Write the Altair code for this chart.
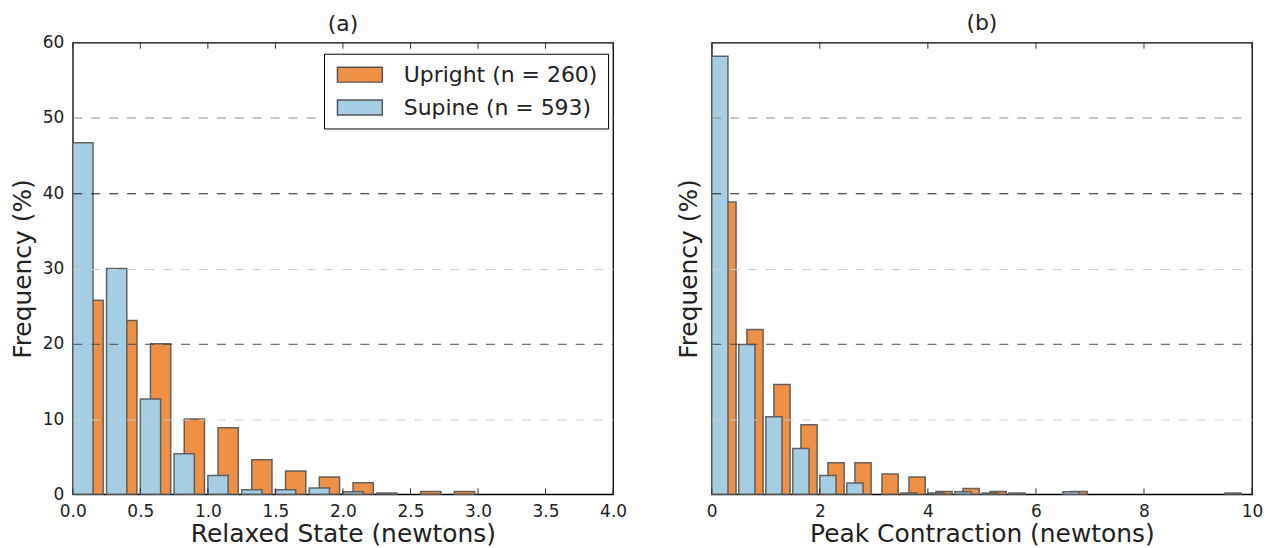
import altair as alt
import pandas as pd

FONT = "DejaVu Sans"
ORANGE = "#EE9046"
BLUE = "#A6CEE3"
EDGE = "#555555"

series_names = ["Upright (n = 260)", "Supine (n = 593)"]

# Panel (a): Relaxed State, bins of 0.25 N
relaxed_bin_width = 0.25
relaxed_bins = [0.0, 0.25, 0.5, 0.75, 1.0, 1.25, 1.5, 1.75, 2.0, 2.25, 2.5, 2.75]
relaxed_upright = [25.8, 23.1, 20.0, 10.0, 8.85, 4.6, 3.1, 2.3, 1.55, 0.0, 0.38, 0.38]
relaxed_supine = [46.7, 30.0, 12.65, 5.4, 2.5, 0.6, 0.6, 0.85, 0.34, 0.17, 0.0, 0.0]

# Panel (b): Peak Contraction, bins of 0.5 N
peak_bin_width = 0.5
peak_bins = [0.0, 0.5, 1.0, 1.5, 2.0, 2.5, 3.0, 3.5, 4.0, 4.5,
             5.0, 5.5, 6.0, 6.5, 7.0, 7.5, 8.0, 8.5, 9.0, 9.5]
peak_upright = [38.85, 21.9, 14.6, 9.25, 4.2, 4.2, 2.7, 2.3, 0.38, 0.77,
                0.38, 0.0, 0.0, 0.38, 0.0, 0.0, 0.0, 0.0, 0.0, 0.0]
peak_supine = [58.2, 19.9, 10.3, 6.1, 2.5, 1.5, 0.0, 0.17, 0.17, 0.34,
               0.17, 0.17, 0.0, 0.34, 0.0, 0.0, 0.0, 0.0, 0.0, 0.17]

y_ticks = [0, 10, 20, 30, 40, 50, 60]
relaxed_ticks = [0.0, 0.5, 1.0, 1.5, 2.0, 2.5, 3.0, 3.5, 4.0]
peak_ticks = [0, 2, 4, 6, 8, 10]

W = 542
H = 453
TICK = 6


def build_frame(bins, upright, supine, bw):
    rows = []
    for b, u, s in zip(bins, upright, supine):
        if u > 0:
            rows.append({"series": series_names[0], "x0": b + 0.3 * bw, "x1": b + 0.9 * bw, "pct": u})
        if s > 0:
            rows.append({"series": series_names[1], "x0": b, "x1": b + 0.6 * bw, "pct": s})
    return pd.DataFrame(rows)


grid_color = {
    "condition": [
        {"test": "datum.value === 40", "value": "#1a1a1a"},
        {"test": "datum.value === 20", "value": "#4d4d4d"},
        {"test": "datum.value === 50", "value": "#8c8c8c"},
    ],
    "value": "#cccccc",
}
grid_opacity = {
    "condition": {"test": "datum.value === 0 || datum.value === 60", "value": 0},
    "value": 1,
}


def panel(df, title, title_offset, xtitle, xdomain, xticks, xformat, show_ylabels, show_legend):
    y_axis = alt.Axis(
        values=y_ticks,
        labels=show_ylabels,
        ticks=False,
        domain=False,
        grid=True,
        gridColor=grid_color,
        gridOpacity=grid_opacity,
        gridDash=[9, 9],
        gridWidth=1,
        labelFontSize=17,
        labelPadding=9,
        labelColor="#222",
        title="Frequency (%)",
        titleFontSize=25,
        titleFontWeight="normal",
        titlePadding=7 if show_ylabels else 10,
        titleColor="#222",
        zindex=1,
    )
    y = alt.Y("pct:Q", scale=alt.Scale(domain=[0, 60], nice=False, padding=0), axis=y_axis)

    legend = None
    if show_legend:
        legend = alt.Legend(
            title=None,
            orient="none",
            legendX=W - 290,
            legendY=11,
            padding=10,
            strokeColor="black",
            fillColor="white",
            cornerRadius=0,
            labelFontSize=22,
            labelFont=FONT,
            labelColor="#222",
            labelLimit=0,
            labelOffset=48,
            symbolType="M-1,-1L5,-1L5,1L-1,1Z",
            symbolSize=225,
            symbolStrokeColor=EDGE,
            symbolStrokeWidth=1.5,
            symbolOpacity=1,
            rowPadding=11,
            zindex=2,
        )
    color = alt.Color(
        "series:N",
        scale=alt.Scale(domain=series_names, range=[ORANGE, BLUE]),
        legend=legend,
    )
    xscale = alt.Scale(domain=xdomain, nice=False, zero=False, padding=0)
    x_axis = alt.Axis(
        orient="bottom",
        values=xticks,
        format=xformat,
        ticks=False,
        domain=False,
        grid=False,
        labelFontSize=17,
        labelPadding=9,
        labelColor="#222",
        labelFlush=False,
        labelOverlap=False,
        labelBound=False,
        title=xtitle,
        titleFontSize=25,
        titleFontWeight="normal",
        titlePadding=2,
        titleColor="#222",
    )
    bar_style = dict(stroke=EDGE, strokeWidth=1.5, strokeOpacity=0.9, opacity=1)
    orange = (
        alt.Chart(df)
        .transform_filter(alt.datum.series == series_names[0])
        .mark_bar(**bar_style)
        .encode(
            x=alt.X("x0:Q", scale=xscale, axis=x_axis),
            x2="x1:Q",
            y=y,
            y2=alt.datum(0),
            color=color,
        )
    )
    blue = (
        alt.Chart(df)
        .transform_filter(alt.datum.series == series_names[1])
        .mark_bar(**bar_style)
        .encode(
            x=alt.X("x0:Q", scale=xscale, axis=x_axis),
            x2="x1:Q",
            y=y,
            y2=alt.datum(0),
            color=color,
        )
    )
    tick_df = pd.DataFrame({"x0": xticks})
    top_ticks = (
        alt.Chart(tick_df)
        .mark_rule(color="#333", strokeWidth=1)
        .encode(x=alt.X("x0:Q", scale=xscale, axis=x_axis), y=alt.value(0), y2=alt.value(TICK))
    )
    bottom_ticks = (
        alt.Chart(tick_df)
        .mark_rule(color="#333", strokeWidth=1)
        .encode(x=alt.X("x0:Q", scale=xscale, axis=x_axis), y=alt.value(H), y2=alt.value(H - TICK))
    )
    return alt.layer(orange, blue, top_ticks, bottom_ticks).properties(
        width=W,
        height=H,
        title=alt.TitleParams(title, fontSize=22, fontWeight="normal", offset=title_offset, color="#222"),
    )


df_a = build_frame(relaxed_bins, relaxed_upright, relaxed_supine, relaxed_bin_width)
df_b = build_frame(peak_bins, peak_upright, peak_supine, peak_bin_width)

pa = panel(df_a, "(a)", -2, "Relaxed State (newtons)", [0, 4], relaxed_ticks, ".1f", True, True)
pb = panel(df_b, "(b)", 7, "Peak Contraction (newtons)", [0, 10], peak_ticks, "d", False, False)

chart = (
    alt.hconcat(pa, pb, spacing=48)
    .resolve_legend(color="independent")
    .properties(padding={"left": 1, "top": 2, "right": 0, "bottom": 0})
    .configure(font=FONT)
    .configure_view(stroke="black", strokeWidth=1.3)
    .configure_axis(labelFont=FONT, titleFont=FONT)
    .configure_title(font=FONT)
)

chart.save("out.html", embed_options={"renderer": "svg", "actions": False})
